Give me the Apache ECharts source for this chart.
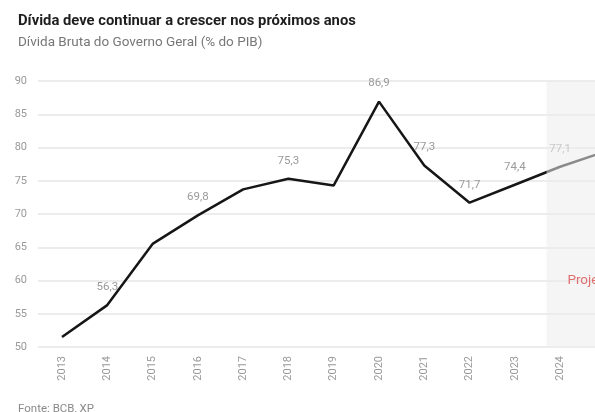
<!DOCTYPE html>
<html>
<head>
<meta charset="utf-8">
<script src="https://cdn.jsdelivr.net/npm/echarts@6/dist/echarts.min.js"></script>
<style>
html,body{margin:0;padding:0;background:#fff;}
#chart{width:595px;height:412px;}
</style>
</head>
<body>
<div id="chart"></div>
<script>
// ---- data ----
const years = [2013, 2014, 2015, 2016, 2017, 2018, 2019, 2020, 2021, 2022, 2023, 2024, 2025];
const debtValues = [51.5, 56.3, 65.5, 69.8, 73.7, 75.3, 74.3, 86.9, 77.3, 71.7, 74.4, 77.1, 79.4];
const labeledYears = [2014, 2016, 2018, 2020, 2021, 2022, 2023, 2024];
const xTickLabels = [2013, 2014, 2015, 2016, 2017, 2018, 2019, 2020, 2021, 2022, 2023, 2024];
const yTicks = [50, 55, 60, 65, 70, 75, 80, 85, 90];
const projectionStart = 2023.7;
const projectionText = 'Projeção';

const titleText = 'Dívida deve continuar a crescer nos próximos anos';
const subtitleText = 'Dívida Bruta do Governo Geral (% do PIB)';
const sourceText = 'Fonte: BCB, XP';

const chart = echarts.init(document.getElementById('chart'), null, {renderer: 'canvas'});
const lineData = years.map((y, i) => ({
  value: [y, debtValues[i]],
  label: {show: labeledYears.includes(y)}
}));
const fmt = v => String(v).replace('.', ',');

const xMin = 2012.47, xMax = 2024.77;
const yMin = yTicks[0], yMax = yTicks[yTicks.length - 1];

chart.setOption({
  backgroundColor: '#ffffff',
  animation: false,
  title: [
    {text: titleText, left: 13, top: 9,
     textStyle: {fontFamily: 'Roboto', fontWeight: 'bold', fontSize: 14.8, color: '#1e1e1e'}},
    {text: subtitleText, left: 13, top: 31,
     textStyle: {fontFamily: 'Roboto', fontWeight: 'normal', fontSize: 13.5, color: '#777777'}},
    {text: sourceText, left: 13, top: 398,
     textStyle: {fontFamily: 'Roboto', fontWeight: 'normal', fontSize: 11.5, color: '#8a8a8a'}}
  ],
  grid: {left: 38, right: 0, top: 81, bottom: 65, containLabel: false},
  xAxis: {
    type: 'value', min: xMin, max: xMax,
    axisLine: {show: false}, axisTick: {show: false}, splitLine: {show: false},
    axisLabel: {
      customValues: xTickLabels, rotate: 90, margin: 9,
      color: '#999999', fontFamily: 'Roboto', fontSize: 11,
      formatter: v => String(Math.round(v))
    }
  },
  yAxis: {
    type: 'value', min: yMin, max: yMax, interval: 5,
    axisLine: {show: false}, axisTick: {show: false},
    splitLine: {lineStyle: {color: '#e6e6e6', width: 1.5}},
    axisLabel: {color: '#999999', fontFamily: 'Roboto', fontSize: 11, margin: 11}
  },
  series: [
    {
      type: 'line', data: lineData, z: 2, clip: true,
      symbol: 'circle', symbolSize: 2, showSymbol: true, showAllSymbol: true,
      itemStyle: {color: 'rgba(0,0,0,0)', borderWidth: 0},
      lineStyle: {color: '#161616', width: 2.5},
      label: {
        position: 'top', distance: 11,
        color: '#9a9a9a', fontFamily: 'Roboto', fontSize: 11.5,
        formatter: p => fmt(p.value[1])
      },
      labelLayout: {hideOverlap: false}
    },
    {
      type: 'custom', z: 5, silent: true,
      data: [[projectionStart, xMax + 1]],
      renderItem: (params, api) => {
        const p0 = api.coord([api.value(0), yMax]);
        const p1 = api.coord([api.value(1), yMin]);
        const t = api.coord([2024.16, 60]);
        return {
          type: 'group',
          children: [
            {type: 'rect', shape: {x: p0[0], y: p0[1], width: p1[0] - p0[0], height: p1[1] - p0[1]},
             style: {fill: 'rgba(236,236,236,0.55)'}},
            {type: 'text', x: t[0], y: t[1],
             style: {text: projectionText, fill: '#e07070', font: '13.5px Roboto', textVerticalAlign: 'middle', textAlign: 'left'}}
          ]
        };
      }
    }
  ]
});
</script>
</body>
</html>
